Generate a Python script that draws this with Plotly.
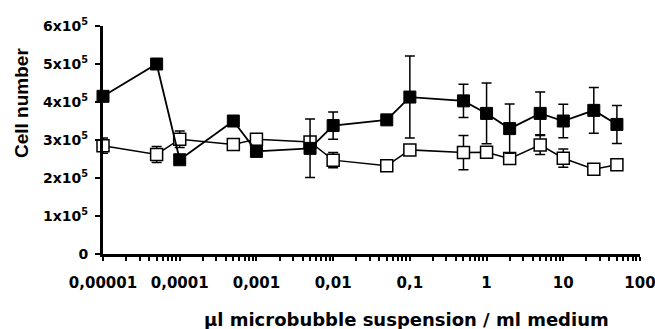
import plotly.graph_objects as go

# Data
conc = [0.00001, 0.00005, 0.0001, 0.0005, 0.001, 0.005, 0.01, 0.05, 0.1,
        0.5, 1, 2, 5, 10, 25, 50]
filled_y = [4.15e5, 5.0e5, 2.48e5, 3.5e5, 2.7e5, 2.78e5, 3.38e5, 3.53e5, 4.13e5,
            4.03e5, 3.7e5, 3.3e5, 3.7e5, 3.5e5, 3.78e5, 3.41e5]
filled_err = [0, 0, 0.1e5, 0, 0, 0.77e5, 0.36e5, 0, 1.08e5,
              0.44e5, 0.8e5, 0.65e5, 0.56e5, 0.44e5, 0.6e5, 0.5e5]
open_y = [2.85e5, 2.62e5, 3.02e5, 2.88e5, 3.02e5, 2.95e5, 2.47e5, 2.32e5, 2.74e5,
          2.67e5, 2.68e5, 2.51e5, 2.87e5, 2.52e5, 2.23e5, 2.35e5]
open_err = [0.2e5, 0.21e5, 0.22e5, 0, 0, 0.1e5, 0.2e5, 0, 0,
            0.45e5, 0, 0, 0.25e5, 0.24e5, 0, 0]

x_major = [0.00001, 0.0001, 0.001, 0.01, 0.1, 1, 10, 100]
x_major_text = ["0,00001", "0,0001", "0,001", "0,01", "0,1", "1", "10", "100"]
y_ticks = [0, 1e5, 2e5, 3e5, 4e5, 5e5, 6e5]
y_tick_text = ["0", "1x10<sup>5</sup>", "2x10<sup>5</sup>", "3x10<sup>5</sup>",
               "4x10<sup>5</sup>", "5x10<sup>5</sup>", "6x10<sup>5</sup>"]

# build tick list with minor (unlabelled) log ticks
tickvals, ticktext = [], []
for i, d in enumerate(x_major):
    tickvals.append(d)
    ticktext.append(x_major_text[i])
    if d < 100:
        for m in range(2, 10):
            tickvals.append(d * m)
            ticktext.append("")

WIDE = "DejaVu Sans, Verdana, sans-serif"
ARIAL = "Liberation Sans, Arial, sans-serif"

fig = go.Figure()
fig.add_trace(go.Scatter(
    x=conc, y=open_y, mode="lines+markers",
    line=dict(color="black", width=1.5),
    marker=dict(symbol="square", size=12, color="white",
                line=dict(color="black", width=1.5)),
    error_y=dict(type="data", array=open_err, visible=True,
                 color="black", thickness=1.5, width=5),
    cliponaxis=False, showlegend=False))
fig.add_trace(go.Scatter(
    x=conc, y=filled_y, mode="lines+markers",
    line=dict(color="black", width=1.8),
    marker=dict(symbol="square", size=12, color="black",
                line=dict(color="black", width=1)),
    error_y=dict(type="data", array=filled_err, visible=True,
                 color="black", thickness=1.5, width=5),
    cliponaxis=False, showlegend=False))

fig.update_layout(
    width=655, height=329,
    margin=dict(l=103, r=15, t=26, b=75),
    paper_bgcolor="white", plot_bgcolor="white",
    font=dict(family=WIDE, color="black"),
    xaxis=dict(type="log", range=[-5, 2], showgrid=False, zeroline=False,
               automargin=False,
               showline=True, linecolor="black", linewidth=3,
               tickmode="array", tickvals=tickvals, ticktext=ticktext,
               ticks="outside", ticklen=4, tickwidth=1.5, tickcolor="black",
               tickfont=dict(family=WIDE, size=15, weight="bold"),
               ticklabelstandoff=9, ticklabeloverflow="allow"),
    yaxis=dict(range=[0, 6e5], showgrid=False, zeroline=False,
               automargin=False,
               showline=True, linecolor="black", linewidth=3,
               tickmode="array", tickvals=y_ticks, ticktext=y_tick_text,
               ticks="outside", ticklen=5, tickwidth=2, tickcolor="black",
               tickfont=dict(family=WIDE, size=14, weight="bold"),
               ticklabelstandoff=4),
    annotations=[
        dict(text="µl microbubble suspension / ml medium", x=406, y=319,
             xref="paper", yref="paper", showarrow=False,
             font=dict(family=WIDE, size=18, weight="bold")),
        dict(text="Cell number", x=21, y=103, textangle=-90,
             xref="paper", yref="paper", showarrow=False,
             font=dict(family=ARIAL, size=19, weight="bold")),
    ],
)
# convert pixel positions of annotations to paper coords
pw = 655 - 103 - 15
ph = 329 - 26 - 75
for a in fig.layout.annotations:
    px, py = a.x, a.y
    a.x = (px - 103) / pw
    a.y = 1 - (py - 26) / ph
    a.xanchor = "center"
    a.yanchor = "middle"

fig.write_html("out.html", config={"displayModeBar": False},
               post_script="document.body.style.margin='0';")
